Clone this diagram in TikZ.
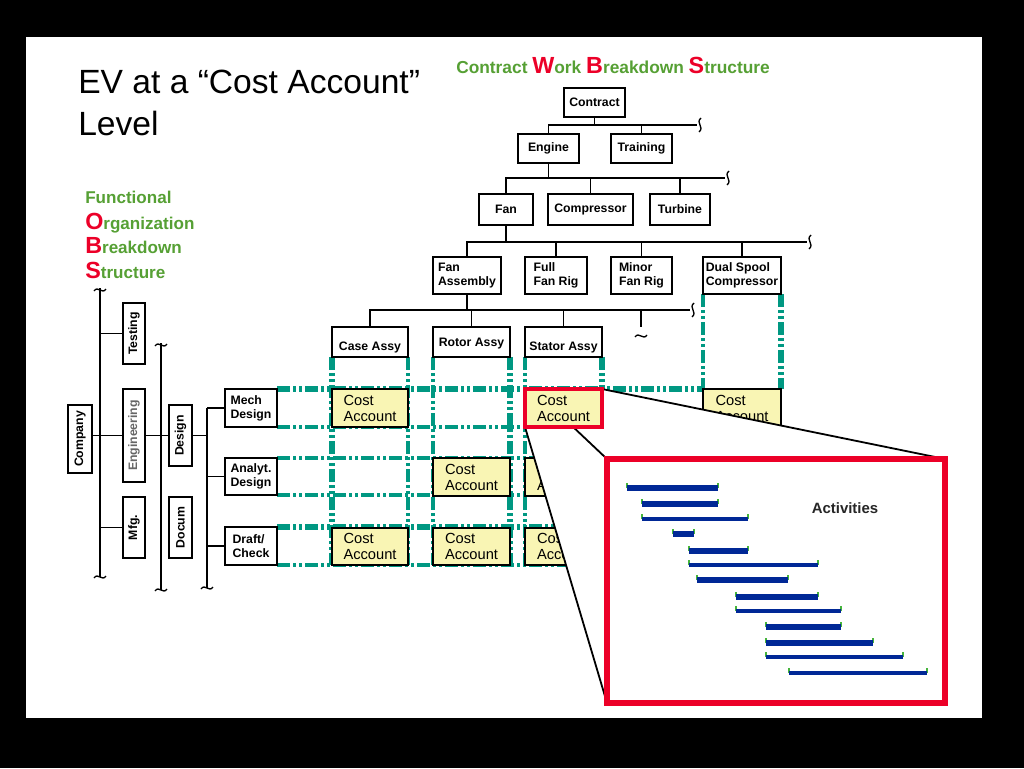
\documentclass[tikz,border=0pt]{standalone}
\usepackage{fontspec}
\setmainfont{Liberation Sans}
\usetikzlibrary{calc}
\definecolor{tl}{RGB}{0,152,130}
\definecolor{grn}{RGB}{86,160,52}
\definecolor{rd}{RGB}{236,0,40}
\definecolor{cay}{RGB}{249,245,180}
\definecolor{barb}{RGB}{0,40,150}
\definecolor{tickc}{RGB}{70,180,60}
\pgfdeclarelayer{back}\pgfdeclarelayer{cone}\pgfdeclarelayer{front}
\pgfsetlayers{back,main,cone,front}
\newcommand\BOX[7]{\node[#6, minimum width={(#4-#2)*0.75pt}, minimum height={(#5-#3)*0.75pt}] (#1) at ({(#2+#4)/2},{(#3+#5)/2}) {#7};}
\newcommand\redl[1]{{\color{rd}\fontsize{17.5}{17.5}\selectfont #1}}
\tikzset{
  bx/.style={draw=black, line width=1.3pt, fill=white, inner sep=0pt, outer sep=0pt,
    font=\fontsize{9.2}{10.3}\selectfont\bfseries, align=left},
  cab/.style={draw=black, line width=1.3pt, fill=cay, inner sep=0pt, outer sep=0pt,
    font=\fontsize{11}{12}\selectfont, align=left},
  lbl/.style={inner sep=0pt, font=\fontsize{9.2}{10.3}\selectfont\bfseries},
  rlbl/.style={lbl, rotate=90},
  con/.style={draw=black, line width=1.35pt},
  tthick/.style={draw=tl, line width=3.8pt, dash pattern=on 9.75pt off 2.25pt on 2.25pt off 2.25pt on 2.25pt off 2.25pt},
  tthin/.style={tthick, line width=2.8pt},
  barK/.style={draw=barb, line width=4.2pt},
  barN/.style={draw=barb, line width=3pt},
  tk/.style={draw=tickc, line width=1pt},
  ttl/.style={inner sep=0pt, anchor=base west},
  vsq/.pic={\draw[line width=1pt] (1,-7) .. controls (-5,-2) and (5,2) .. (-1,7);},
  hsq/.pic={\draw[line width=1pt] (-6,1) .. controls (-2,-5) and (2,5) .. (6,-1);}
}
\begin{document}
\begin{tikzpicture}[x=0.75pt,y=-0.75pt]
\begin{pgfonlayer}{back}
\fill[black] (0,0) rectangle (1024,768);
\fill[white] (26,37) rectangle (982,718);
\end{pgfonlayer}
\useasboundingbox (0,0) rectangle (1024,768);

% titles
\node[ttl, font=\fontsize{25.2}{28}\selectfont] (title1) at (78,93) {EV at a “Cost Account”};
\node[ttl, font=\fontsize{25.2}{28}\selectfont] (title2) at (78,135) {Level};
\node[ttl, font=\fontsize{13}{14}\selectfont\bfseries, text=grn] (wbst) at (456,73)
  {Contract \redl{W}ork \redl{B}reakdown \redl{S}tructure};
\node[ttl, font=\fontsize{12.8}{14}\selectfont\bfseries, text=grn] (obs1) at (85,203) {Functional};
\node[ttl, font=\fontsize{12.8}{14}\selectfont\bfseries, text=grn] (obs2) at (85,229) {\redl{O}rganization};
\node[ttl, font=\fontsize{12.8}{14}\selectfont\bfseries, text=grn] (obs3) at (85,253) {\redl{B}reakdown};
\node[ttl, font=\fontsize{12.8}{14}\selectfont\bfseries, text=grn] (obs4) at (85,278) {\redl{S}tructure};

% WBS boxes
\BOX{contract}{564}{88}{625}{117}{bx}{Contract}
\BOX{engine}{518}{134}{579}{163}{bx}{Engine}
\BOX{training}{611}{134}{672}{163}{bx}{Training}
\BOX{fan}{479}{194}{533}{225}{bx}{Fan}
\BOX{comp}{548}{194}{633}{225}{bx}{Compressor}
\BOX{turbine}{650}{194}{710}{225}{bx}{Turbine}
\BOX{fanassy}{433}{257}{501}{294}{bx}{Fan\\Assembly}
\BOX{fullrig}{525}{257}{587}{294}{bx}{Full\\Fan Rig}
\BOX{minorrig}{611}{257}{672}{294}{bx}{Minor\\Fan Rig}
\BOX{dualsp}{703}{257}{781}{294}{bx}{Dual Spool\\Compressor}
\BOX{case}{332}{327}{408}{357}{bx}{}
\BOX{rotor}{433}{327}{510}{357}{bx}{}
\BOX{stator}{525}{327}{602}{357}{bx}{}
\node[lbl] (caset) at ($(case.south)+(0,-10)$) {Case Assy};
\node[lbl] (rotort) at ($(rotor.south)+(0,-13)$) {Rotor Assy};
\node[lbl] (statort) at ($(stator.south)+(0,-10)$) {Stator Assy};

% OBS boxes
\BOX{company}{68}{405}{92}{473}{bx}{}
\BOX{testing}{123}{303}{145}{364}{bx}{}
\BOX{eng}{123}{389}{145}{482}{bx}{}
\BOX{mfg}{123}{497}{145}{558}{bx}{}
\BOX{design}{169}{405}{192}{466}{bx}{}
\BOX{docum}{169}{497}{192}{558}{bx}{}
\node[rlbl] (companyt) at (company) {Company};
\node[rlbl] (testingt) at (testing) {Testing};
\node[rlbl, text=black!60] (engt) at (eng) {Engineering};
\node[rlbl] (mfgt) at (mfg) {Mfg.};
\node[rlbl] (designt) at (design) {Design};
\node[rlbl] (documt) at (docum) {Docum};
\BOX{mech}{225}{389}{277}{427}{bx}{Mech\\Design}
\BOX{analyt}{225}{458}{277}{495}{bx}{Analyt.\\Design}
\BOX{draft}{225}{527}{277}{565}{bx}{Draft/\\Check}

% cost accounts
\BOX{ca11}{332}{389}{408}{427}{cab}{Cost\\Account}
\BOX{ca14}{703}{389}{781}{427}{cab}{Cost\\Account}
\BOX{ca22}{433}{458}{510}{496}{cab}{Cost\\Account}
\BOX{ca23}{525}{458}{602}{496}{cab}{Cost\\Account}
\BOX{ca31}{332}{528}{408}{565}{cab}{Cost\\Account}
\BOX{ca32}{433}{528}{510}{565}{cab}{Cost\\Account}
\BOX{ca33}{525}{528}{602}{565}{cab}{Cost\\Account}

% WBS connectors
\coordinate (b1e) at (697,125);
\coordinate (b2e) at (725,178);
\coordinate (b3e) at (807,242);
\coordinate (b4e) at (690,310);
\coordinate (dang) at (641,327);
\draw[con] (contract.south) -- (contract.south |- b1e);
\draw[con] (engine.north) |- (b1e);
\draw[con] (training.north) -- (training.north |- b1e);
\draw[con] (engine.south) -- (engine.south |- b2e);
\draw[con] (fan.north) |- (b2e);
\draw[con] (comp.north) -- (comp.north |- b2e);
\draw[con] (turbine.north) -- (turbine.north |- b2e);
\draw[con] (fan.south) -- (fan.south |- b3e);
\draw[con] (fanassy.north) |- (b3e);
\draw[con] (fullrig.north) -- (fullrig.north |- b3e);
\draw[con] (minorrig.north) -- (minorrig.north |- b3e);
\draw[con] (dualsp.north) -- (dualsp.north |- b3e);
\draw[con] (fanassy.south) -- (fanassy.south |- b4e);
\draw[con] (case.north) |- (b4e);
\draw[con] (rotor.north) -- (rotor.north |- b4e);
\draw[con] (stator.north) -- (stator.north |- b4e);
\draw[con] (dang |- b4e) -- (dang);
\pic at ($(b1e)+(3,0)$) {vsq};
\pic at ($(b2e)+(3,0)$) {vsq};
\pic at ($(b3e)+(3,0)$) {vsq};
\pic at ($(b4e)+(3,0)$) {vsq};
\pic at ($(dang)+(0,9)$) {hsq};

% OBS connectors
\coordinate (cotop) at (100,288);
\coordinate (cobot) at (100,577);
\coordinate (entop) at (161,343);
\coordinate (enbot) at (161,590);
\coordinate (debot) at (207,588);
\draw[con] (cotop) -- (cobot);
\draw[con] (entop) -- (enbot);
\draw[con] (mech.west -| debot) -- (debot);
\draw[con] (company.east |- eng.west) -- (eng.west);
\draw[con] (testing.west -| cotop) -- (testing.west);
\draw[con] (mfg.west -| cotop) -- (mfg.west);
\draw[con] (eng.east) -- (design.west);
\draw[con] (design.east) -- (design.east -| debot);
\draw[con] (mech.west -| debot) -- (mech.west);
\draw[con] (analyt.west -| debot) -- (analyt.west);
\draw[con] (draft.west -| debot) -- (draft.west);
\pic at ($(cotop)+(0,2)$) {hsq};
\pic at (cobot) {hsq};
\pic at ($(entop)+(0,2)$) {hsq};
\pic at (enbot) {hsq};
\pic at (debot) {hsq};

% front: red cost account and zoom box
\begin{pgfonlayer}{front}
\BOX{ca13}{525}{389}{602}{427}{cab, draw=rd, line width=2.4pt}{Cost\\Account}
\BOX{zoombox}{607}{459}{945}{703}{draw=rd, line width=3.8pt, fill=white, inner sep=0pt, outer sep=0pt}{}
\node[font=\fontsize{11.2}{13}\selectfont\bfseries, text=black!85] (act) at (845,508) {Activities};
\foreach \a/\b/\c/\s in {627/718/488/K, 642/718/504/K, 642/748/519/N, 673/694/534/K,
  689/748/551/K, 689/818/565/N, 697/788/580/K, 736/818/597/K, 736/841/611/N,
  766/841/627/K, 766/873/643/K, 766/903/657/N, 789/927/673/N}{
  \draw[tk] (\a,\c) -- (\a,\c-5.5);
  \draw[tk] (\b,\c) -- (\b,\c-5.5);
  \draw[bar\s] (\a,\c) -- (\b,\c);
}
\end{pgfonlayer}

% cone
\begin{pgfonlayer}{cone}
\fill[white] (ca13.south west) -- (ca13.north east) -- (zoombox.north east) -- (zoombox.south east) -- (zoombox.south west) -- cycle;
\draw[con] (ca13.south west) -- (zoombox.south west);
\draw[con] (ca13.north east) -- (zoombox.north east);
\draw[con] ($(ca13.south)!0.25!(ca13.south east)$) -- (zoombox.north west);
\end{pgfonlayer}

% teal grid
\begin{pgfonlayer}{back}
\draw[tthick] (mech.north east) -- (ca14.north west);
\draw[tthin] (mech.south east) -- (ca13.south west);
\draw[tthin] (analyt.north east) -- (analyt.north east -| ca13.east);
\draw[tthin] (analyt.south east) -- (analyt.south east -| ca13.east);
\draw[tthick] (draft.north east) -- (draft.north east -| ca13.east);
\draw[tthin] (draft.south east) -- (draft.south east -| ca13.east);
\draw[tthick] (case.south west) -- (case.south west |- draft.south);
\draw[tthin] (case.south east) -- (case.south east |- draft.south);
\draw[tthin] (rotor.south west) -- (rotor.south west |- draft.south);
\draw[tthick] (rotor.south east) -- (rotor.south east |- draft.south);
\draw[tthin] (stator.south west) -- (stator.south west |- draft.south);
\draw[tthick] (stator.south east) -- (ca13.north east);
\draw[tthin] (dualsp.south west) -- (ca14.north west);
\draw[tthick] (dualsp.south east) -- (ca14.north east);
\end{pgfonlayer}
\end{tikzpicture}
\end{document}
